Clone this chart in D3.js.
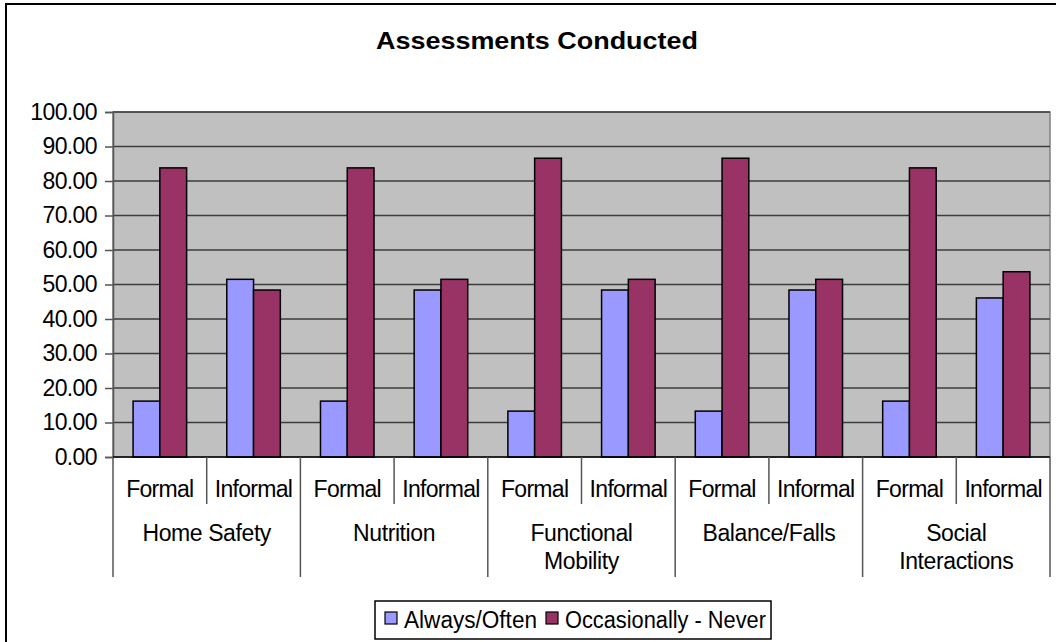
<!DOCTYPE html>
<html>
<head>
<meta charset="utf-8">
<script src="https://cdn.jsdelivr.net/npm/d3@7/dist/d3.min.js"></script>
<style>
  html, body { margin: 0; padding: 0; background: #fff; }
  svg { display: block; font-family: "Liberation Sans", Arial, sans-serif; }
</style>
</head>
<body>
<svg id="chart" width="1056" height="642"></svg>
<script>
// ---- data ----
const groups = ["Home Safety", "Nutrition", "Functional Mobility", "Balance/Falls", "Social Interactions"];
const groupLines = [["Home Safety"], ["Nutrition"], ["Functional", "Mobility"], ["Balance/Falls"], ["Social", "Interactions"]];
const types = ["Formal", "Informal"];
const seriesNames = ["Always/Often", "Occasionally - Never"];
const alwaysOften = [16.2, 51.5, 16.2, 48.4, 13.3, 48.4, 13.3, 48.4, 16.2, 46.1];
const occasionallyNever = [83.8, 48.4, 83.8, 51.5, 86.6, 51.5, 86.6, 51.5, 83.8, 53.7];
const yTicks = [0, 10, 20, 30, 40, 50, 60, 70, 80, 90, 100];
const colors = ["#9999FF", "#993366"];

// ---- build table ----
const cats = [];
groups.forEach((g, gi) => types.forEach((t, ti) => cats.push({ id: gi + "-" + ti, group: g, gi, type: t })));
const seriesVals = [alwaysOften, occasionallyNever];

const svg = d3.select("#chart");
const plot = { left: 113, right: 1050, top: 112, bottom: 457 };
const LS = -0.4;

// outer chart border
svg.append("rect").attr("x", 6).attr("y", 4).attr("width", 1100).attr("height", 700)
  .attr("fill", "#fff").attr("stroke", "#000").attr("stroke-width", 2);

// title
svg.append("text").attr("x", 537).attr("y", 49).attr("text-anchor", "middle")
  .attr("font-size", 24).attr("font-weight", "bold").attr("textLength", 322).attr("lengthAdjust", "spacingAndGlyphs")
  .text("Assessments Conducted");

const x = d3.scaleBand().domain(cats.map(d => d.id)).range([plot.left, plot.right]).padding(0);
const xs = d3.scaleBand().domain([0, 1]).range([0, x.bandwidth()]).paddingInner(0).paddingOuter(0.75);
const y = d3.scaleLinear().domain([0, 100]).range([plot.bottom, plot.top]);

// plot background
svg.append("rect").attr("x", plot.left).attr("y", plot.top)
  .attr("width", plot.right - plot.left).attr("height", plot.bottom - plot.top)
  .attr("fill", "#C0C0C0").attr("stroke", "#808080").attr("stroke-width", 1.5);

// gridlines
svg.append("g").selectAll("line").data(yTicks.filter(v => v > 0)).join("line")
  .attr("x1", plot.left).attr("x2", plot.right)
  .attr("y1", d => y(d)).attr("y2", d => y(d))
  .attr("stroke", "#3c3c3c").attr("stroke-width", 1.3);

// bars
const barG = svg.append("g");
seriesVals.forEach((vals, si) => {
  barG.append("g").selectAll("rect").data(cats).join("rect")
    .attr("x", d => x(d.id) + xs(si))
    .attr("width", xs.bandwidth())
    .attr("y", (d, i) => y(vals[i]))
    .attr("height", (d, i) => y(0) - y(vals[i]))
    .attr("fill", colors[si]).attr("stroke", "#000").attr("stroke-width", 1.5);
});

// y axis
const yAxis = svg.append("g").attr("transform", `translate(${plot.left},0)`)
  .call(d3.axisLeft(y).tickValues(yTicks).tickFormat(d3.format(".2f")).tickSize(8).tickPadding(8));
yAxis.select(".domain").attr("stroke", "#555").attr("stroke-width", 1.5);
yAxis.selectAll(".tick line").attr("stroke", "#555").attr("stroke-width", 1.5);
yAxis.selectAll(".tick text").attr("font-size", 23).attr("fill", "#000").attr("letter-spacing", -0.6)
  .attr("font-family", "'Liberation Sans', Arial, sans-serif");

// x axis line
svg.append("line").attr("x1", plot.left).attr("x2", plot.right)
  .attr("y1", plot.bottom).attr("y2", plot.bottom).attr("stroke", "#000").attr("stroke-width", 1.5);

// category separators
const sepG = svg.append("g");
cats.forEach((d, i) => {
  const xx = x(d.id);
  const long = (i % 2 === 0);
  sepG.append("line").attr("x1", xx).attr("x2", xx)
    .attr("y1", plot.bottom).attr("y2", long ? 577 : 504)
    .attr("stroke", "#555").attr("stroke-width", 1.5);
});
sepG.append("line").attr("x1", plot.right).attr("x2", plot.right)
  .attr("y1", plot.bottom).attr("y2", 577).attr("stroke", "#555").attr("stroke-width", 1.5);

// category labels
svg.append("g").selectAll("text").data(cats).join("text")
  .attr("x", d => x(d.id) + x.bandwidth() / 2).attr("y", 497)
  .attr("text-anchor", "middle").attr("font-size", 23).attr("letter-spacing", -0.7).text(d => d.type);

// group labels
groups.forEach((g, gi) => {
  const cx = x(gi + "-0") + x.bandwidth();
  const t = svg.append("text").attr("x", cx).attr("y", 541).attr("text-anchor", "middle")
    .attr("font-size", 23).attr("letter-spacing", LS);
  groupLines[gi].forEach((line, li) => {
    t.append("tspan").attr("x", cx).attr("dy", li === 0 ? 0 : 28).text(line);
  });
});

// legend
const lg = svg.append("g");
lg.append("rect").attr("x", 375).attr("y", 601).attr("width", 396).attr("height", 38)
  .attr("fill", "#fff").attr("stroke", "#000").attr("stroke-width", 1.5);
const legendX = [385, 546];
const legendTextW = [133, 201];
seriesNames.forEach((n, i) => {
  lg.append("rect").attr("x", legendX[i]).attr("y", 612).attr("width", 12).attr("height", 12)
    .attr("fill", colors[i]).attr("stroke", "#000").attr("stroke-width", 1.2);
  lg.append("text").attr("x", legendX[i] + 19).attr("y", 628).attr("font-size", 23)
    .attr("textLength", legendTextW[i]).attr("lengthAdjust", "spacingAndGlyphs").text(n);
});
</script>
</body>
</html>
